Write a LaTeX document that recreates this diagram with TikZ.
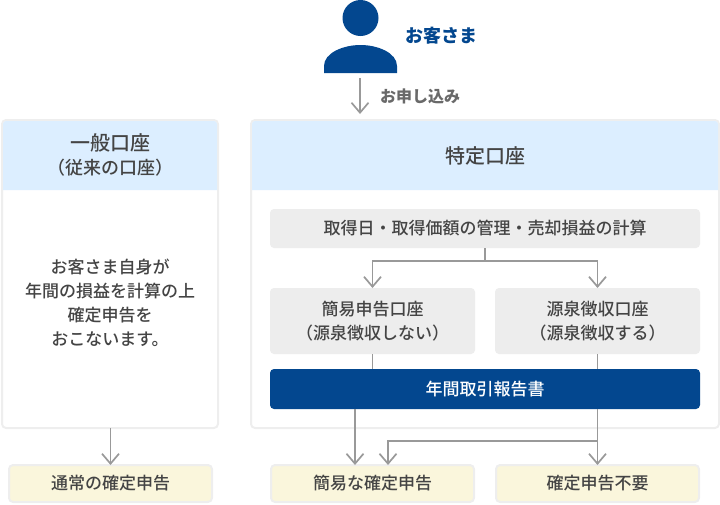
\documentclass[tikz,border=0pt]{standalone}
\usepackage{fontspec}
\setmainfont{Noto Sans CJK JP}
\newfontfamily\strongfont{Noto Sans CJK JP Medium}
\usepackage{xcolor}
\usetikzlibrary{arrows.meta,positioning,calc}
\definecolor{navy}{HTML}{03478F}
\definecolor{headblue}{HTML}{DCEEFF}
\definecolor{edgegray}{HTML}{EEEEEE}
\definecolor{boxgray}{HTML}{EDEDED}
\definecolor{boxyellow}{HTML}{FAF6DC}
\definecolor{linegray}{HTML}{999999}
\definecolor{textgray}{HTML}{444444}

\begin{document}
\begin{tikzpicture}[
    x=1pt, y=1pt,
    node distance=0pt,
    txt/.style={font=\fontsize{17}{24}\strongfont, text=textgray, align=center, inner sep=0pt},
    panel/.style={rectangle, draw=edgegray, fill=white, line width=2pt, rounded corners=4pt, inner sep=0pt, outer sep=0pt},
    graybox/.style={txt, rectangle, fill=boxgray, rounded corners=4pt, outer sep=0pt},
    bluebox/.style={graybox, fill=navy, text=white},
    yellowbox/.style={graybox, draw=edgegray, fill=boxyellow, line width=2pt, minimum width=203pt, minimum height=37pt},
    headfill/.style={fill=headblue},
    arrow/.style={-{Straight Barb[length=10pt,width=17pt]}, line width=1.7pt, draw=linegray},
    link/.style={line width=1.7pt, draw=linegray}
]
    \useasboundingbox (0,0) rectangle (720,-504);

    % customer
    \node[circle, fill=navy, minimum size=36pt, inner sep=0pt] (head) at (360.5,-18) {};
    \fill[navy] (324,-73) -- (324,-66) .. controls (324,-53) and (343,-45) .. (360.5,-45)
        .. controls (378,-45) and (397,-53) .. (397,-66) -- (397,-73) -- cycle;
    \node[txt, text=navy, font=\fontsize{18}{24}\bfseries\selectfont] (customer) at (441.5,-36) {お客さま};
    \coordinate (apply) at (360,-78);

    % panels
    \node[panel, minimum width=216pt, minimum height=308pt, anchor=north west] (general) at (2,-120) {};
    \node[panel, minimum width=468pt, minimum height=308pt, anchor=north west] (special) at (251,-120) {};
    \fill[headfill] (3,-190) [rounded corners=3pt] -- (3,-121) -- (217,-121) [sharp corners] -- (217,-190) -- cycle;
    \fill[headfill] (252,-190) [rounded corners=3pt] -- (252,-121) -- (718,-121) [sharp corners] -- (718,-190) -- cycle;
    \node[txt] (generalhead) at (110,-155) {{\fontsize{20}{25}\selectfont 一般口座}\\{\fontsize{18}{24}\selectfont （従来の口座）}};
    \node[txt, font=\fontsize{20}{25}\strongfont] (specialhead) at (485,-156) {特定口座};
    \node[txt] (generaltext) at (110,-303) {お客さま自身が\\年間の損益を計算の上\\確定申告を\\おこないます。};

    % inside the special account
    \node[graybox, minimum width=430pt, minimum height=39pt, anchor=north] (manage) at (485,-209) {取得日・取得価額の管理・売却損益の計算};
    \node[graybox, minimum width=205pt, minimum height=66pt, below right=40pt and 0pt of manage.south west, anchor=north west] (simple) {簡易申告口座\\（源泉徴収しない）};
    \node[graybox, minimum width=205pt, minimum height=66pt, below left=40pt and 0pt of manage.south east, anchor=north east] (withheld) {源泉徴収口座\\（源泉徴収する）};
    \node[bluebox, minimum width=430pt, minimum height=40pt, anchor=north] (report) at (485,-369) {年間取引報告書};

    % results
    \node[yellowbox, anchor=north] (normal) at (110.5,-465) {通常の確定申告};
    \node[yellowbox, anchor=north] (simpletax) at (372.5,-465) {簡易な確定申告};
    \node[yellowbox, anchor=north] (notneeded) at (597.5,-465) {確定申告不要};

    % connectors
    \draw[arrow, shorten >=6pt] (apply) -- (apply |- special.north);
    \node[txt, font=\fontsize{16}{20}\bfseries\selectfont, text=textgray!80, anchor=west] (applytext) at (380,-96) {お申し込み};
    \draw[link] (manage.south) -- ++(0,-13) coordinate (fork);
    \draw[arrow] (fork) -| (simple.north);
    \draw[arrow] (fork) -| (withheld.north);
    \draw[link] (simple.south) -- (simple.south |- report.north);
    \draw[link] (withheld.south) -- (withheld.south |- report.north);
    \draw[arrow] (general.south -| normal.north) -- (normal.north);
    \coordinate (left) at ($(simpletax.north)+(-17.5,0)$);
    \coordinate (right) at ($(simpletax.north)+(15.5,0)$);
    \draw[arrow] (report.south -| left) -- (left);
    \draw[arrow] (report.south -| notneeded.north) -- (notneeded.north);
    \draw[arrow] (notneeded.north |- 0,-441) -| (right);
\end{tikzpicture}
\end{document}
